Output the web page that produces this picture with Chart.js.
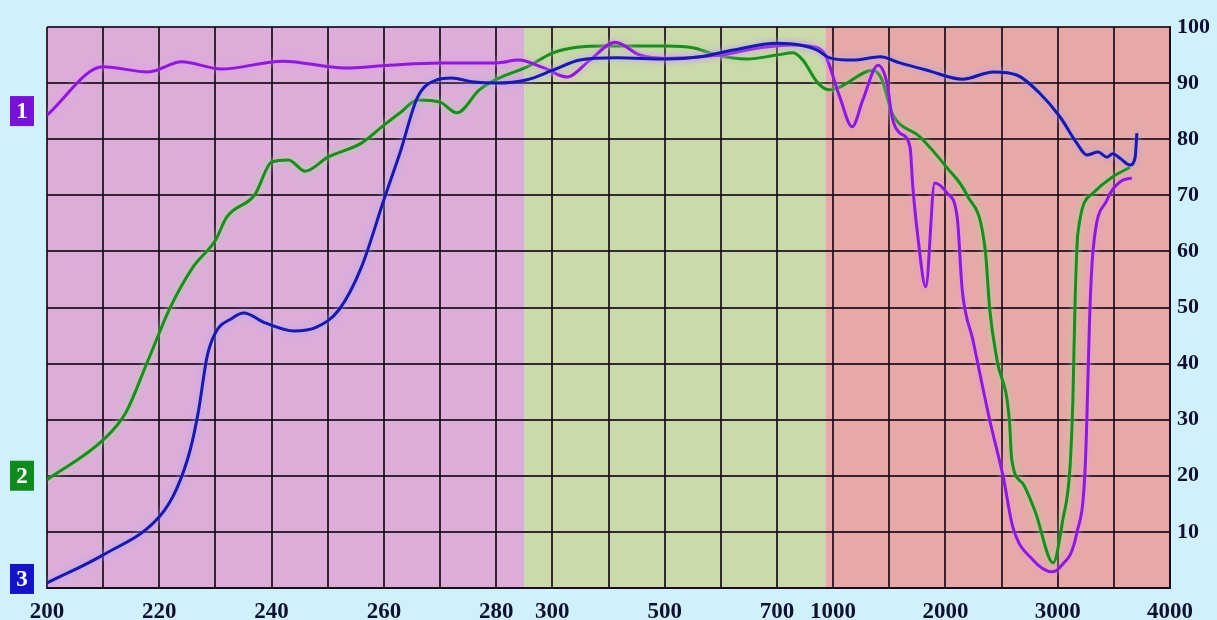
<!DOCTYPE html>
<html>
<head>
<meta charset="utf-8">
<script src="https://cdn.jsdelivr.net/npm/chart.js@4.4.0/dist/chart.umd.min.js"></script>
<style>
	html, body { margin: 0; padding: 0; background: #d0f0fb; }
	#wrap { width: 1217px; height: 620px; position: relative; }
</style>
</head>
<body>
<div id="wrap"><canvas id="specChart"></canvas></div>
<script>
// x axis is broken into pieces: 200-280 / 280-300 / 300-700 / 700-1000 / 1000-4000
var axisNm = [200, 280, 300, 700, 1000, 4000];
var axisPos = [0, 8, 9, 13, 14, 20];
var tickLabels = [200, 220, 240, 260, 280, 300, 500, 700, 1000, 2000, 3000, 4000];

// coloured zones behind the grid (nm)
var zoneFrom = [200, 290, 960];
var zoneTo = [290, 960, 4000];
var zoneColors = ['#dcadd9', '#cbd9ab', '#e6a9a8'];

// curve 1 (purple)
var nm1 = [200,210,218,224,231,242,253,261,270,280,288,297,326,367,412,456,501,599,670,769,904,958,1060,1170,1265,1400,1480,1525,1595,1685,1710,1755,1825,1905,2015,2105,2150,2245,2395,2515,2600,2780,2950,3020,3170,3245,3290,3315,3440,3555,3660];
var val1 = [84.3,92.9,92.0,93.8,92.5,93.9,92.7,93.2,93.6,93.6,94.1,92.7,91.1,94.1,97.3,95.0,94.4,95.0,96.3,96.8,96.4,95.0,87.5,82.2,87.0,93.2,90.0,84.0,81.1,78.6,71.5,62.6,53.7,72.2,70.4,66.1,53.1,44.2,29.9,19.8,10.9,5.0,2.9,3.7,9.8,21.6,51.3,60.2,69.2,72.4,73.1];

// curve 2 (green)
var nm2 = [200,210,214,218,222,226,230,232,237,240,243,246,250,256,260,263,266,270,273,277,281,291,301,344,397,504,550,593,647,700,787,838,919,982,1060,1355,1435,1525,1775,2015,2190,2355,2395,2460,2570,2590,2690,2800,2960,3045,3110,3135,3155,3180,3315,3490,3645];
var val2 = [19.3,26.4,31.2,40.6,50.1,57.2,62.0,66.1,70.1,75.9,76.3,74.3,76.8,79.3,82.5,84.8,87.0,86.6,84.7,88.8,90.9,92.9,95.4,96.4,96.6,96.6,96.3,95.0,94.3,95.0,95.4,94.1,90.0,88.8,89.3,92.3,90.6,84.7,80.4,74.9,70.1,60.2,49.6,40.6,29.9,23.0,18.6,13.6,4.5,12.1,21.6,33.5,51.3,63.3,70.4,73.3,75.0];

// curve 3 (blue)
var nm3 = [200,210,220,223,225.5,227,228.5,230,233,235,239,244,248,252,256,260,263,266,269.5,272,276,280,291,301,349,415,504,563,622,700,823,913,982,1175,1420,1595,1835,2155,2425,2640,2840,3020,3170,3260,3360,3440,3490,3555,3645,3690,3705];
var val3 = [0.9,5.9,12.7,17.5,24.6,31.7,41.2,45.5,48.1,49.0,47.2,45.8,46.5,49.6,57.2,69.2,78.0,87.5,90.6,90.9,90.2,90.0,90.6,92.3,94.1,94.5,94.3,94.7,95.9,97.1,96.8,95.9,94.5,94.1,94.7,93.6,92.3,90.7,92.0,91.4,88.2,84.0,79.3,77.2,77.7,76.8,77.4,76.6,75.4,76.8,81.1];

var yTicks = [10, 20, 30, 40, 50, 60, 70, 80, 90, 100];

function nmToPos(nm) {
	for (var i = 0; i < axisNm.length - 1; i++) {
		if (nm <= axisNm[i + 1] || i == axisNm.length - 2) {
			var t = (nm - axisNm[i]) / (axisNm[i + 1] - axisNm[i]);
			return axisPos[i] + t * (axisPos[i + 1] - axisPos[i]);
		}
	}
}
function posToNm(p) {
	for (var i = 0; i < axisPos.length - 1; i++) {
		if (p <= axisPos[i + 1] || i == axisPos.length - 2) {
			var t = (p - axisPos[i]) / (axisPos[i + 1] - axisPos[i]);
			return axisNm[i] + t * (axisNm[i + 1] - axisNm[i]);
		}
	}
}
function points(nm, val) {
	return nm.map(function (n, i) { return { x: nmToPos(n), y: val[i] }; });
}

var serif = "'Liberation Serif', 'DejaVu Serif', serif";

// zones + background
var zonePlugin = {
	id: 'zones',
	beforeDraw: function (chart) {
		var ctx = chart.ctx, a = chart.chartArea, x = chart.scales.x;
		ctx.save();
		ctx.fillStyle = '#d0f0fb';
		ctx.fillRect(0, 0, chart.width, chart.height);
		for (var i = 0; i < zoneFrom.length; i++) {
			var x0 = x.getPixelForValue(nmToPos(zoneFrom[i]));
			var x1 = x.getPixelForValue(nmToPos(zoneTo[i]));
			ctx.fillStyle = zoneColors[i];
			ctx.fillRect(x0, a.top, x1 - x0, a.bottom - a.top);
		}
		ctx.restore();
	},
	// numbered boxes at the left end of each curve
	afterDraw: function (chart) {
		var ctx = chart.ctx, y = chart.scales.y;
		ctx.save();
		chart.data.datasets.forEach(function (ds) {
			var cy = y.getPixelForValue(ds.data[0].y) - 4;
			ctx.fillStyle = ds.boxColor;
			ctx.fillRect(10, cy - 15, 24, 30);
			ctx.fillStyle = '#ffffff';
			ctx.font = 'bold 23px ' + serif;
			ctx.textAlign = 'center';
			ctx.textBaseline = 'middle';
			ctx.fillText(ds.label, 22, cy + 1);
		});
		ctx.restore();
	}
};

// soft halo round the lines
var glowPlugin = {
	id: 'glow',
	beforeDatasetDraw: function (chart, args) {
		var ds = chart.data.datasets[args.index];
		chart.ctx.save();
		chart.ctx.shadowColor = ds.glowColor;
		chart.ctx.shadowBlur = 6;
	},
	afterDatasetDraw: function (chart) {
		chart.ctx.restore();
	}
};

var lineBase = { fill: false, pointRadius: 0, borderWidth: 3, cubicInterpolationMode: 'monotone' };

new Chart(document.getElementById('specChart').getContext('2d'), {
	type: 'line',
	data: {
		datasets: [
			Object.assign({ label: '3', data: points(nm3, val3), borderColor: '#1c19a6', glowColor: '#a9a4ff', boxColor: '#1414c4' }, lineBase),
			Object.assign({ label: '1', data: points(nm1, val1), borderColor: '#8a1cd2', glowColor: '#f08cf5', boxColor: '#7a12d6' }, lineBase),
			Object.assign({ label: '2', data: points(nm2, val2), borderColor: '#1f8a22', glowColor: '#9fe08f', boxColor: '#0f8a1f' }, lineBase)
		]
	},
	plugins: [zonePlugin, glowPlugin],
	options: {
		responsive: true,
		maintainAspectRatio: false,
		animation: false,
		layout: { padding: { left: 47, top: 27, right: 0, bottom: 0 } },
		plugins: {
			legend: { display: false },
			tooltip: { enabled: false }
		},
		scales: {
			x: {
				type: 'linear',
				min: axisPos[0],
				max: axisPos[axisPos.length - 1],
				afterFit: function (s) { s.height = 32; },
				grid: { color: 'rgba(25,10,25,0.85)', lineWidth: 2, drawTicks: false },
				border: { color: 'rgba(25,10,25,0.9)', width: 2 },
				ticks: {
					stepSize: 1,
					autoSkip: false,
					maxRotation: 0,
					padding: 10,
					color: '#101030',
					font: { family: serif, size: 23, weight: 'bold' },
					callback: function (v) {
						var nm = Math.round(posToNm(v));
						return tickLabels.indexOf(nm) >= 0 ? String(nm) : '';
					}
				}
			},
			y: {
				position: 'right',
				min: 0,
				max: 100,
				afterFit: function (s) { s.width = 47; },
				grid: { color: 'rgba(25,10,25,0.85)', lineWidth: 2, drawTicks: false },
				border: { color: 'rgba(25,10,25,0.9)', width: 2 },
				ticks: {
					stepSize: 10,
					padding: 7,
					color: '#101030',
					font: { family: serif, size: 22, weight: 'bold' },
					callback: function (v) { return yTicks.indexOf(v) >= 0 ? String(v) : ''; }
				}
			}
		}
	}
});
</script>
</body>
</html>
